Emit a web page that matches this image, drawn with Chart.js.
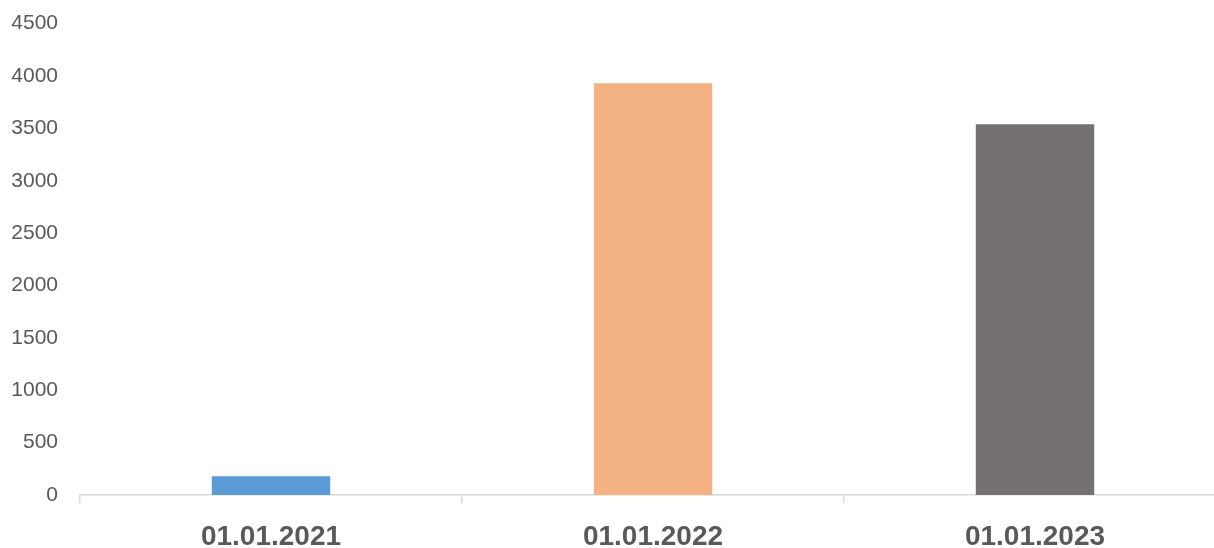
<!DOCTYPE html>
<html>
<head>
<meta charset="utf-8">
<script src="https://cdn.jsdelivr.net/npm/chart.js@4/dist/chart.umd.min.js"></script>
<style>
html,body{margin:0;padding:0;background:#fff;overflow:hidden;}
#wrap{width:1214px;height:548px;overflow:hidden;position:relative;}
#box{width:1226px;height:559px;position:absolute;left:0;top:-11px;}
</style>
</head>
<body>
<div id="wrap"><div id="box"><canvas id="c"></canvas></div></div>
<script>
const categories = ["01.01.2021", "01.01.2022", "01.01.2023"];
const values = [180, 3930, 3540];
const barColors = ["#5B9BD5", "#F4B183", "#767171"];
const yTicks = [0, 500, 1000, 1500, 2000, 2500, 3000, 3500, 4000, 4500];

new Chart(document.getElementById('c'), {
  type: 'bar',
  data: {
    labels: categories,
    datasets: [{
      data: values,
      backgroundColor: barColors,
      borderWidth: 0,
      categoryPercentage: 1,
      barPercentage: 0.31
    }]
  },
  options: {
    responsive: true,
    maintainAspectRatio: false,
    animation: false,
    layout: { padding: { top: 11, right: 0, left: 0, bottom: 0 } },
    plugins: { legend: { display: false }, tooltip: { enabled: false } },
    scales: {
      x: {
        offset: true,
        grid: { offset: true, display: true, drawOnChartArea: false, drawTicks: true, tickLength: 8, color: '#D9D9D9', lineWidth: 1.5 },
        border: { display: true, color: '#D9D9D9', width: 1.5 },
        ticks: { color: '#595959', font: { family: '"Liberation Sans", Arial, sans-serif', size: 28, weight: 'bold' }, padding: 17, maxRotation: 0 },
        afterFit: (s) => { s.height = 53; }
      },
      y: {
        min: 0,
        max: 4500,
        afterBuildTicks: (s) => { s.ticks = yTicks.map(v => ({ value: v })); },
        grid: { display: false, drawTicks: false },
        border: { display: false },
        ticks: { color: '#595959', font: { family: '"Liberation Sans", Arial, sans-serif', size: 21 }, padding: 22, callback: (v) => String(v) },
        afterFit: (s) => { s.width = 80; }
      }
    }
  }
});
</script>
</body>
</html>
